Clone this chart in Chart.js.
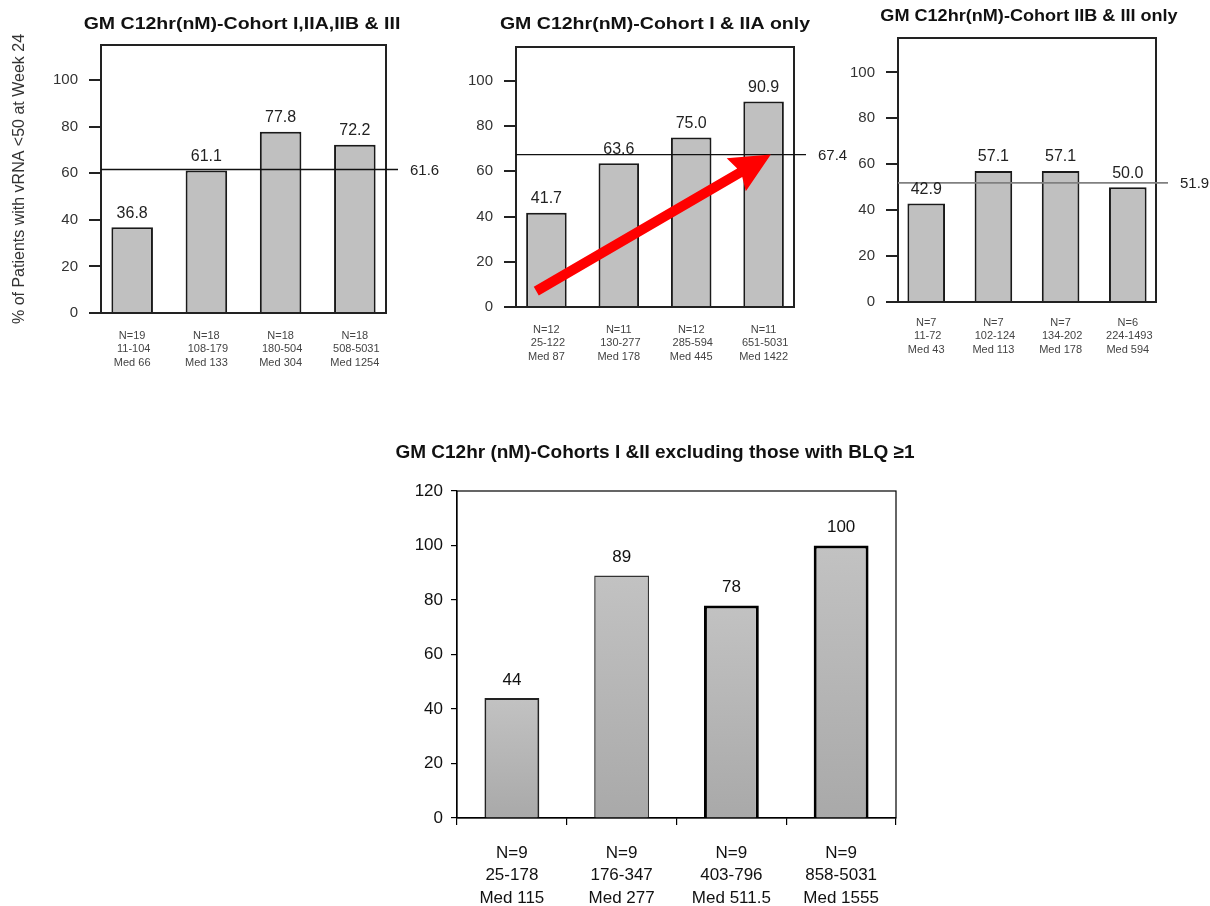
<!DOCTYPE html>
<html>
<head>
<meta charset="utf-8">
<script src="https://cdn.jsdelivr.net/npm/chart.js@4.4.1/dist/chart.umd.min.js"></script>
<style>
html, body { margin: 0; padding: 0; background: #fff; }
body { width: 1210px; height: 906px; position: relative; overflow: hidden; }
canvas { position: absolute; }
#c1 { left: 0; top: 0; }
#c2 { left: 450px; top: 0; }
#c3 { left: 845px; top: 0; }
#c4 { left: 380px; top: 420px; }
</style>
</head>
<body>
<canvas id="c1" width="450" height="380"></canvas>
<canvas id="c2" width="405" height="380"></canvas>
<canvas id="c3" width="365" height="380"></canvas>
<canvas id="c4" width="560" height="486"></canvas>
<script>
// ---------- data ----------
const title1 = "GM C12hr(nM)-Cohort I,IIA,IIB & III";
const categories1 = [["N=19", " 11-104", "Med 66"], ["N=18", " 108-179", "Med 133"], ["N=18", " 180-504", "Med 304"], ["N=18", " 508-5031", "Med 1254"]];
const values1 = [36.8, 61.1, 77.8, 72.2];
const reference1 = 61.6;

const title2 = "GM C12hr(nM)-Cohort I & IIA only";
const categories2 = [["N=12", " 25-122", "Med 87"], ["N=11", " 130-277", "Med 178"], ["N=12", " 285-594", "Med 445"], ["N=11", " 651-5031", "Med 1422"]];
const values2 = [41.7, 63.6, 75.0, 90.9];
const reference2 = 67.4;
const arrowFrom = [-0.14, 7];
const arrowTo = [3.1, 67.4];

const title3 = "GM C12hr(nM)-Cohort IIB & III only";
const categories3 = [["N=7", " 11-72", "Med 43"], ["N=7", " 102-124", "Med 113"], ["N=7", " 134-202", "Med 178"], ["N=6", " 224-1493", "Med 594"]];
const values3 = [42.9, 57.1, 57.1, 50.0];
const reference3 = 51.9;

const title4 = "GM C12hr (nM)-Cohorts I &II excluding those with BLQ \u22651";
const categories4 = [["N=9", "25-178", "Med 115"], ["N=9", "176-347", "Med 277"], ["N=9", "403-796", "Med 511.5"], ["N=9", "858-5031", "Med 1555"]];
const values4 = [44, 89, 78, 100];

const yAxisTitle = "% of Patients with vRNA <50 at Week 24";
const yTicksTop = [0, 20, 40, 60, 80, 100];
const yTicksBottom = [0, 20, 40, 60, 80, 100, 120];

// ---------- rendering ----------
const FONT = "'Liberation Sans', Arial, Helvetica, sans-serif";
Chart.defaults.font.family = FONT;
Chart.defaults.color = '#333';

const decor = {
  id: 'decor',
  beforeDatasetsDraw(chart, args, o) {
    const { ctx, chartArea: a } = chart;
    ctx.save();
    ctx.strokeStyle = o.frameColor;
    ctx.lineWidth = o.frameWidth;
    ctx.strokeRect(a.left, a.top, a.right - a.left, a.bottom - a.top);
    ctx.restore();
  },
  afterDatasetsDraw(chart, args, o) {
    const { ctx, chartArea: a, scales: { x, y } } = chart;
    ctx.save();
    if (o.ref != null) {
      const py = y.getPixelForValue(o.ref);
      ctx.strokeStyle = o.refColor;
      ctx.lineWidth = o.refWidth;
      ctx.beginPath();
      ctx.moveTo(a.left, py);
      ctx.lineTo(a.right + o.refExtend, py);
      ctx.stroke();
      ctx.fillStyle = o.textColor;
      ctx.font = o.refFont;
      ctx.textAlign = 'left';
      ctx.textBaseline = 'middle';
      ctx.fillText(o.ref.toFixed(1), a.right + o.refExtend + o.refGap, py + 1);
    }
    const meta = chart.getDatasetMeta(0);
    ctx.font = o.valueFont;
    ctx.fillStyle = o.textColor;
    ctx.textAlign = 'center';
    ctx.textBaseline = 'middle';
    meta.data.forEach((bar, i) => {
      ctx.fillText(o.format(o.values[i]), bar.x, bar.y - o.valueGap);
    });
    if (o.arrow) {
      const x0 = x.getPixelForValue(o.arrow.from[0]), y0 = y.getPixelForValue(o.arrow.from[1]);
      const x1 = x.getPixelForValue(o.arrow.to[0]), y1 = y.getPixelForValue(o.arrow.to[1]);
      const L = Math.hypot(x1 - x0, y1 - y0);
      const ang = Math.atan2(y1 - y0, x1 - x0);
      const hl = 40, hw = 19, sw = 5;
      ctx.translate(x0, y0);
      ctx.rotate(ang);
      ctx.fillStyle = '#ff0000';
      ctx.beginPath();
      ctx.moveTo(0, -sw);
      ctx.lineTo(L - hl + 4, -sw);
      ctx.lineTo(L - hl, -hw);
      ctx.lineTo(L, 0);
      ctx.lineTo(L - hl, hw);
      ctx.lineTo(L - hl + 4, sw);
      ctx.lineTo(0, sw);
      ctx.closePath();
      ctx.fill();
    }
    ctx.restore();
  },
  afterDraw(chart, args, o) {
    const ctx = chart.ctx;
    ctx.save();
    ctx.translate(o.title.x, o.title.y);
    ctx.scale(o.title.sx, 1);
    ctx.font = o.title.font;
    ctx.fillStyle = '#111';
    ctx.textAlign = 'center';
    ctx.textBaseline = 'middle';
    ctx.fillText(o.title.text, 0, 0);
    ctx.restore();
  }
};

function topChart(id, cats, vals, ref, cfg) {
  return new Chart(document.getElementById(id), {
    type: 'bar',
    data: {
      datasets: [{
        data: vals.map((v, i) => ({ x: i, y: v })),
        backgroundColor: '#c0c0c0',
        borderColor: '#1a1a1a',
        borderWidth: 2,
        barPercentage: 0.56,
        categoryPercentage: 1
      }]
    },
    plugins: [decor],
    options: {
      responsive: false,
      animation: false,
      layout: { padding: { left: 0, right: cfg.padRight, top: cfg.padTop, bottom: 0 } },
      plugins: {
        legend: { display: false },
        tooltip: { enabled: false },
        decor: {
          frameColor: '#222', frameWidth: 2,
          ref: ref, refColor: cfg.refColor, refWidth: cfg.refWidth, refExtend: 12, refGap: 12,
          refFont: '15px ' + FONT, textColor: '#222',
          valueFont: '16px ' + FONT, valueGap: 14,
          values: vals, format: v => v.toFixed(1),
          arrow: cfg.arrow || null,
          title: cfg.title
        }
      },
      scales: {
        x: {
          type: 'linear',
          min: -0.42, max: 3.42,
          offset: false,
          grid: { display: false, offset: false },
          border: { display: false },
          afterBuildTicks: s => { s.ticks = cats.map((_, i) => ({ value: i })); },
          afterFit: s => { s.height = cfg.xHeight; },
          ticks: {
            autoSkip: false, maxRotation: 0, minRotation: 0,
            padding: cfg.xPad,
            color: '#444',
            font: { size: 11, lineHeight: 1.23 },
            callback: v => cats[v]
          }
        },
        y: {
          min: 0, max: 115,
          grid: { drawOnChartArea: false, drawTicks: true, tickLength: 12, color: '#222', lineWidth: 2 },
          border: { display: false },
          afterBuildTicks: s => { s.ticks = yTicksTop.map(v => ({ value: v })); },
          afterFit: s => { s.width = cfg.yWidth; },
          ticks: { padding: 11, color: '#333', font: { size: 15 } },
          title: cfg.yTitle ? {
            display: true, text: cfg.yTitle, color: '#333',
            font: { size: 16 }, padding: { top: 10, bottom: 0 }
          } : { display: false }
        }
      }
    }
  });
}

topChart('c1', categories1, values1, reference1, {
  padRight: 64, padTop: 45, xHeight: 67, yWidth: 101, xPad: 8,
  refColor: '#111', refWidth: 1.4, yTitle: yAxisTitle,
  title: { text: title1, x: 242, y: 25, sx: 1.22, font: 'bold 16px ' + FONT }
});

topChart('c2', categories2, values2, reference2, {
  padRight: 61, padTop: 47, xHeight: 73, yWidth: 66, xPad: 8,
  refColor: '#111', refWidth: 1.4,
  arrow: { from: arrowFrom, to: arrowTo },
  title: { text: title2, x: 205, y: 25, sx: 1.22, font: 'bold 16px ' + FONT }
});

topChart('c3', categories3, values3, reference3, {
  padRight: 54, padTop: 38, xHeight: 78, yWidth: 53, xPad: 6,
  refColor: '#808080', refWidth: 1.8,
  title: { text: title3, x: 184, y: 17, sx: 1.13, font: 'bold 16px ' + FONT }
});

// bottom chart
new Chart(document.getElementById('c4'), {
  type: 'bar',
  data: {
    labels: categories4,
    datasets: [{
      data: values4,
      backgroundColor: (c) => {
        const ch = c.chart, a = ch.chartArea, ys = ch.scales.y;
        if (!a || !ys || c.parsed == null) return '#b8b8b8';
        const top = ys.getPixelForValue(c.parsed.y);
        const g = ch.ctx.createLinearGradient(0, top, 0, a.bottom);
        g.addColorStop(0, '#c2c2c2');
        g.addColorStop(1, '#a9a9a9');
        return g;
      },
      borderColor: ['#222', '#333', '#000', '#000'],
      borderWidth: [2, 1.5, 3, 3],
      barPercentage: 0.5,
      categoryPercentage: 1
    }]
  },
  plugins: [decor],
  options: {
    responsive: false,
    animation: false,
    layout: { padding: { left: 0, right: 44, top: 71, bottom: 0 } },
    plugins: {
      legend: { display: false },
      tooltip: { enabled: false },
      decor: {
        frameColor: '#000', frameWidth: 1.2,
        ref: null, textColor: '#111',
        valueFont: '17px ' + FONT, valueGap: 18,
        values: values4, format: v => String(v),
        arrow: null,
        title: { text: title4, x: 275, y: 33, sx: 1, font: 'bold 19px ' + FONT }
      }
    },
    scales: {
      x: {
        grid: { display: true, drawOnChartArea: false, drawTicks: true, tickLength: 7, offset: true, color: '#000', lineWidth: 1.2 },
        border: { display: true, color: '#000', width: 1.2 },
        afterFit: s => { s.height = 88; },
        ticks: { autoSkip: false, maxRotation: 0, minRotation: 0, padding: 17, color: '#111', font: { size: 17, lineHeight: 1.32 } }
      },
      y: {
        min: 0, max: 120,
        grid: { drawOnChartArea: false, drawTicks: true, tickLength: 6, color: '#000', lineWidth: 1.2 },
        border: { display: true, color: '#000', width: 1.2 },
        afterBuildTicks: s => { s.ticks = yTicksBottom.map(v => ({ value: v })); },
        afterFit: s => { s.width = 77; },
        ticks: { padding: 8, color: '#111', font: { size: 17 } }
      }
    }
  }
});
</script>
</body>
</html>
